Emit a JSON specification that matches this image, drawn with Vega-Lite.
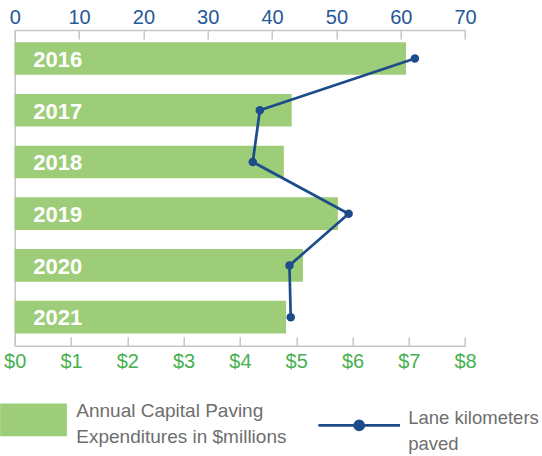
{
  "$schema": "https://vega.github.io/schema/vega-lite/v6.json",
  "autosize": {"type": "none"},
  "padding": {"left": 14.7, "top": 30, "right": 76.9, "bottom": 110.3},
  "width": 450.4,
  "height": 315.7,
  "background": "white",
  "config": {"view": {"stroke": null}, "axis": {"grid": false}},
  "data": {
    "values": [
      {"year": "2016", "spend": 6.95, "km": 62.2},
      {"year": "2017", "spend": 4.92, "km": 38.1},
      {"year": "2018", "spend": 4.78, "km": 37.0},
      {"year": "2019", "spend": 5.74, "km": 51.9},
      {"year": "2020", "spend": 5.12, "km": 42.7},
      {"year": "2021", "spend": 4.82, "km": 42.9}
    ]
  },
  "layer": [
    {
      "layer": [
        {
          "mark": {"type": "bar"},
          "encoding": {
            "y": {
              "field": "year", "type": "ordinal",
              "scale": {"paddingInner": 0.368, "paddingOuter": 0.235},
              "axis": {"labels": false, "ticks": false, "title": null, "domainColor": "#c6c6c6", "domainWidth": 1.5}
            },
            "x": {
              "field": "spend", "type": "quantitative",
              "scale": {"domain": [0, 8], "nice": false},
              "axis": {
                "orient": "bottom", "title": null, "values": [0, 1, 2, 3, 4, 5, 6, 7, 8],
                "labelExpr": "'$' + datum.value",
                "domainColor": "#c6c6c6", "domainWidth": 1.5,
                "tickColor": "#c6c6c6", "tickWidth": 1.5, "tickSize": -9,
                "labelPadding": 15, "labelFont": "Liberation Sans", "labelFontSize": 20,
                "labelColor": "#47b14f", "labelFlush": false
              }
            },
            "fill": {
              "datum": "Annual Capital Paving|Expenditures in $millions",
              "scale": {"range": ["#9dcd78"]},
              "legend": {
                "orient": "none", "legendX": -14.7, "legendY": 356.3, "title": null, "padding": 0,
                "symbolType": "M-1,-0.49H1V0.49H-1Z", "symbolSize": 4449, "symbolStrokeWidth": 0,
                "labelFont": "Liberation Sans", "labelFontSize": 19, "labelColor": "#6e6e6e",
                "labelExpr": "split(datum.label, '|')", "labelOffset": 9.3, "labelLimit": 400,
                "encode": {"labels": {"update": {"lineHeight": {"value": 26.6}, "dy": {"value": -9.3}}}}
              }
            }
          }
        },
        {
          "mark": {"type": "text", "align": "left", "baseline": "middle", "dx": 18.5, "dy": 1.3, "font": "Liberation Sans", "fontWeight": "bold", "fontSize": 22, "color": "white"},
          "encoding": {
            "y": {"field": "year", "type": "ordinal"},
            "x": {"datum": 0, "type": "quantitative"},
            "text": {"field": "year", "type": "nominal"}
          }
        }
      ]
    },
    {
      "layer": [
        {
          "mark": {"type": "line", "strokeWidth": 2.7},
          "encoding": {
            "y": {"field": "year", "type": "ordinal"},
            "x": {
              "field": "km", "type": "quantitative",
              "scale": {"domain": [0, 70], "nice": false},
              "axis": {
                "orient": "top", "title": null, "values": [0, 10, 20, 30, 40, 50, 60, 70],
                "domainColor": "#c6c6c6", "domainWidth": 1.5,
                "tickColor": "#c6c6c6", "tickWidth": 1.5, "tickSize": -9,
                "labelPadding": 11.5, "labelFont": "Liberation Sans", "labelFontSize": 20,
                "labelColor": "#24589a", "labelFlush": false
              }
            },
            "order": {"field": "year", "type": "ordinal"},
            "stroke": {
              "datum": "Lane kilometers|paved",
              "scale": {"range": ["#1d4c8b"]},
              "legend": {
                "orient": "none", "legendX": 302, "legendY": 352.9, "title": null, "padding": 0,
                "symbolType": "M-1,0H1M-0.11,0A0.11,0.11,0,1,1,0.11,0A0.11,0.11,0,1,1,-0.11,0Z",
                "symbolSize": 6659, "symbolStrokeWidth": 2.7,
                "labelFont": "Liberation Sans", "labelFontSize": 18.5, "labelColor": "#6e6e6e",
                "labelExpr": "split(datum.label, '|')", "labelOffset": 6.5, "labelLimit": 400,
                "encode": {"symbols": {"update": {"fill": {"value": "#1d4c8b"}}}, "labels": {"update": {"lineHeight": {"value": 26}, "dy": {"value": -7.2}}}}
              }
            }
          }
        },
        {
          "mark": {"type": "point", "filled": true, "size": 72, "color": "#1d4c8b", "opacity": 1},
          "encoding": {
            "y": {"field": "year", "type": "ordinal"},
            "x": {"field": "km", "type": "quantitative"}
          }
        }
      ]
    }
  ],
  "resolve": {"scale": {"x": "independent"}, "axis": {"x": "independent"}}
}
